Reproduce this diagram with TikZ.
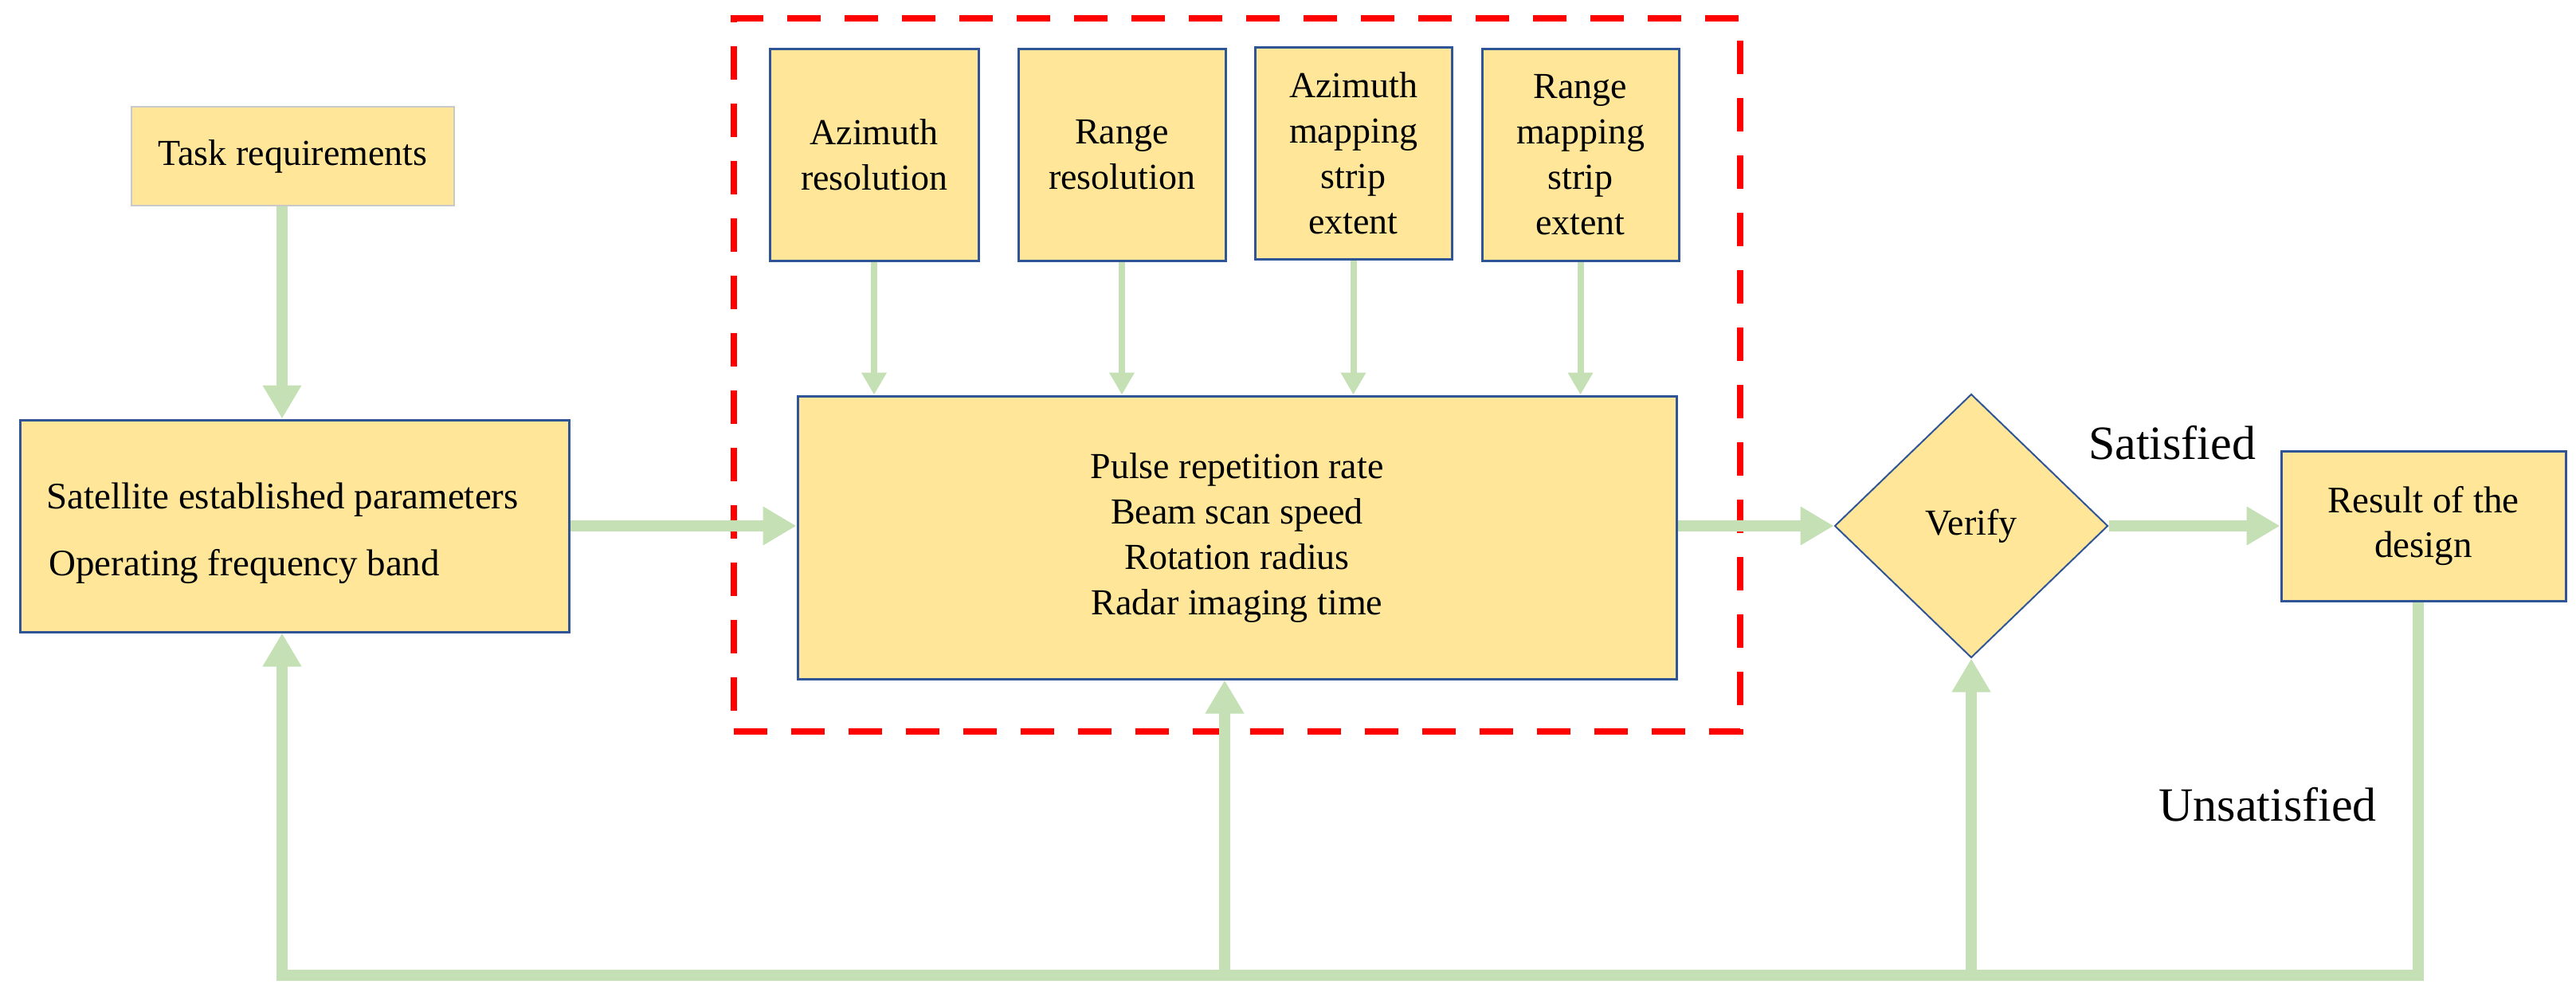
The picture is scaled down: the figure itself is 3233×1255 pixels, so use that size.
\documentclass[tikz,border=0pt]{standalone}
\usepackage{fontspec}
\setmainfont{Liberation Serif}
\usetikzlibrary{arrows.meta,shapes.geometric}
\definecolor{boxfill}{HTML}{FFE699}
\definecolor{boxline}{HTML}{2F5597}
\definecolor{arrowgreen}{HTML}{C5E0B4}
\definecolor{taskline}{HTML}{C9C9C9}
\tikzset{
  box/.style={draw=boxline, line width=3pt, fill=boxfill, inner sep=0pt, align=center,
    font=\fontsize{46}{57}\selectfont},
  thinbox/.style={box, draw=taskline, line width=1.5pt},
  dia/.style={box, shape=diamond, line width=2pt, aspect=1},
  garrow/.style={draw=arrowgreen, line width=14pt, -{Triangle[width=46pt,length=42pt]}},
  sarrow/.style={draw=arrowgreen, line width=8pt, -{Triangle[width=30pt,length=28pt]}},
  redbox/.style={draw=red, line width=8pt, dash pattern=on 42pt off 30pt, inner sep=0pt},
  lbl/.style={font=\fontsize{60}{70}\selectfont, inner sep=0pt},
  boxtxt/.style={font=\fontsize{47}{57}\selectfont, inner sep=0pt, anchor=base west}
}
\begin{document}
\begin{tikzpicture}[x=1pt,y=-1pt]
\useasboundingbox (0,0) rectangle (3233,1255);
% dashed group
\node[redbox, minimum width=1263pt, minimum height=895pt] (grp) at (1552.5,470.5) {};
% nodes
\node[thinbox, minimum width=405pt, minimum height=124pt] (task) at (367.5,196) {Task requirements};
\node[box, minimum width=689pt, minimum height=266pt] (sat) at (369.5,660) {};
\node[boxtxt] (sat-l1) at (58,638) {Satellite established parameters};
\node[boxtxt] (sat-l2) at (61,722) {Operating frequency band};
\node[box, minimum width=262pt, minimum height=265pt] (azr) at (1097,194.5) {Azimuth\\resolution};
\node[box, minimum width=260pt, minimum height=265pt] (rgr) at (1408,194.5) {Range\\resolution};
\node[box, minimum width=247pt, minimum height=265pt] (azm) at (1698.5,192.5) {Azimuth\\mapping\\strip\\extent};
\node[box, minimum width=247pt, minimum height=265pt] (rgm) at (1983.5,194.5) {Range\\mapping\\strip\\extent};
\node[box, minimum width=1103pt, minimum height=355pt] (main) at (1552.5,674.5)
      {Pulse repetition rate\\Beam scan speed\\Rotation radius\\Radar imaging time};
\node[dia, minimum width=343pt, minimum height=331pt] (ver) at (2474,660) {Verify};
\node[box, minimum width=357pt, minimum height=188pt, font=\fontsize{47}{56}\selectfont] (res) at (3041.5,660) {Result of the\\design};
% labels
\node[lbl, anchor=base] (sat-lbl) at (2726,576) {Satisfied};
\node[lbl, anchor=base] (unsat-lbl) at (2846,1030) {Unsatisfied};
% coordinates
\coordinate (c1) at (354,0);
\coordinate (bl) at (354,1224);
\coordinate (bm) at (1537,1224);
\coordinate (bv) at (2474,1224);
\coordinate (br) at (3035,1224);
% connectors
\draw[garrow] (task.south -| c1) -- (sat.north -| c1);
\draw[garrow] (sat.east |- ver.west) -- (main.west |- ver.west);
\draw[garrow] (main.east |- ver.west) -- (ver.west);
\draw[garrow] (ver.east) -- (res.west);
\draw[sarrow] (azr.south) -- (azr.south |- main.north);
\draw[sarrow] (rgr.south) -- (rgr.south |- main.north);
\draw[sarrow] (azm.south) -- (azm.south |- main.north);
\draw[sarrow] (rgm.south) -- (rgm.south |- main.north);
\draw[garrow, line join=miter] (res.south -| br) -- (br) -- (bl) -- (sat.south -| bl);
\draw[garrow] (bm) -- (main.south -| bm);
\draw[garrow] (bv) -- (ver.south);
\end{tikzpicture}
\end{document}
